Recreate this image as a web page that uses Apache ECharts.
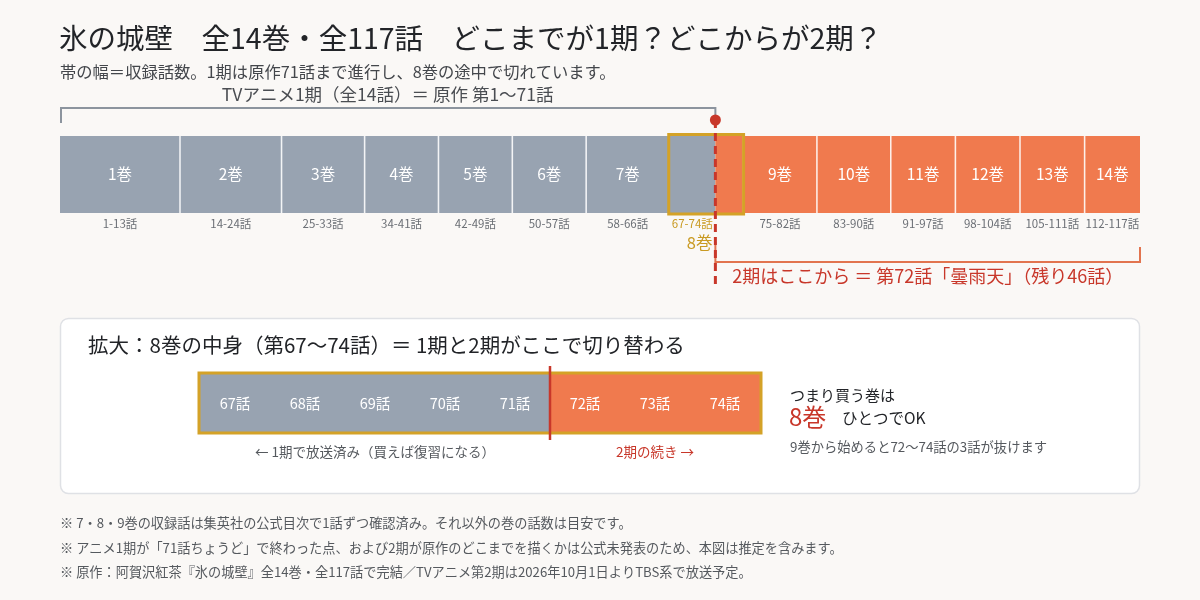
<!DOCTYPE html>
<html>
<head>
<meta charset="utf-8">
<script src="https://cdn.jsdelivr.net/npm/echarts@6/dist/echarts.min.js"></script>
<style>
html,body{margin:0;padding:0;background:#faf8f6;}
#main{width:1200px;height:600px;}
</style>
</head>
<body>
<div id="main"></div>
<script>
// ---- data ----
const volumes = ['1巻','2巻','3巻','4巻','5巻','6巻','7巻','8巻','9巻','10巻','11巻','12巻','13巻','14巻'];
const firstEp = [1, 14, 25, 34, 42, 50, 58, 67, 75, 83, 91, 98, 105, 112];
const lastEp  = [13, 24, 33, 41, 49, 57, 66, 74, 82, 90, 97, 104, 111, 117];
const totalEpisodes = 117;
const season1LastEp = 71;
const splitVolume = '8巻';
const zoomEpisodes = [67, 68, 69, 70, 71, 72, 73, 74];

const titleText = '氷の城壁　全14巻・全117話　どこまでが1期？どこからが2期？';
const subtitleText = '帯の幅＝収録話数。1期は原作71話まで進行し、8巻の途中で切れています。';
const season1Text = 'TVアニメ1期（全14話）＝ 原作 第1〜71話';
const season2Text = '2期はここから ＝ 第72話「曇雨天」（残り46話）';
const zoomTitle = '拡大：8巻の中身（第67〜74話）＝ 1期と2期がここで切り替わる';
const zoomLeftNote = '← 1期で放送済み（買えば復習になる）';
const zoomRightNote = '2期の続き →';
const buyLine1 = 'つまり買う巻は';
const buyVol = '8巻';
const buyLine2 = 'ひとつでOK';
const buyNote = '9巻から始めると72〜74話の3話が抜けます';
const footnotes = [
  '※ 7・8・9巻の収録話は集英社の公式目次で1話ずつ確認済み。それ以外の巻の話数は目安です。',
  '※ アニメ1期が「71話ちょうど」で終わった点、および2期が原作のどこまでを描くかは公式未発表のため、本図は推定を含みます。',
  '※ 原作：阿賀沢紅茶『氷の城壁』全14巻・全117話で完結／TVアニメ第2期は2026年10月1日よりTBS系で放送予定。'
];

// ---- styles ----
const FONT = "'Noto Sans CJK JP','Noto Sans',sans-serif";
const GREY = '#98a3b1';
const ORANGE = '#f07a4e';
const GOLD = '#d4a227';
const RED = '#c8372a';
const BRACKET_GREY = '#8c949e';
const BRACKET_ORANGE = '#e2744f';

function txt(x, y, text, size, fill, align) {
  return {
    type: 'text', x: x, y: y,
    style: {
      text: text, font: size + 'px ' + FONT,
      fill: fill, textAlign: align || 'left', align: align || 'left',
      textVerticalAlign: 'middle', verticalAlign: 'middle'
    }
  };
}
function ctext(x, y, text, size, fill, align) {
  return {
    type: 'text',
    style: {
      x: x, y: y, text: text, font: size + 'px ' + FONT, fill: fill,
      textAlign: align || 'center', align: align || 'center',
      textVerticalAlign: 'middle', verticalAlign: 'middle'
    }
  };
}

const chart = echarts.init(document.getElementById('main'), null, {renderer: 'canvas'});

const volData = volumes.map((v, i) => [firstEp[i] - 1, lastEp[i], i]);

function renderVolume(params, api) {
  const s = api.value(0), e = api.value(1), i = api.value(2);
  const p0 = api.coord([s, 1]);
  const p1 = api.coord([e, 0]);
  const x0 = p0[0], y0 = p0[1], x1 = p1[0], y1 = p1[1];
  const children = [];
  const isSplit = s < season1LastEp && e > season1LastEp;
  let xm = x1;
  if (isSplit) {
    xm = api.coord([season1LastEp, 0])[0];
    children.push({type: 'rect', shape: {x: x0, y: y0, width: xm - x0, height: y1 - y0}, style: {fill: GREY}});
    children.push({type: 'rect', shape: {x: xm, y: y0, width: x1 - xm, height: y1 - y0}, style: {fill: ORANGE}});
  } else {
    children.push({type: 'rect', shape: {x: x0, y: y0, width: x1 - x0, height: y1 - y0},
      style: {fill: e <= season1LastEp ? GREY : ORANGE}});
  }
  if (s > 0) {
    children.push({type: 'line', shape: {x1: x0, y1: y0, x2: x0, y2: y1}, style: {stroke: 'rgba(255,255,255,0.85)', lineWidth: 1.6}});
  }
  if (!isSplit) {
    children.push(ctext((x0 + x1) / 2, (y0 + y1) / 2, volumes[i], 15.5, '#ffffff'));
    children.push(ctext((x0 + x1) / 2, y1 + 11, firstEp[i] + '-' + lastEp[i] + '話', 11.5, '#6b6f75'));
  } else {
    children.push(ctext((x0 + xm) / 2, y1 + 11, firstEp[i] + '-' + lastEp[i] + '話', 11.5, '#c99a22'));
    children.push({type: 'rect', shape: {x: x0 - 0.5, y: y0 - 1.5, width: x1 - x0 + 1, height: y1 - y0 + 2.5},
      style: {fill: 'none', stroke: GOLD, lineWidth: 3}, z2: 10});
    children.push(ctext(xm - 3, y1 + 30, volumes[i], 16.5, '#c99a22', 'right'));
  }
  return {type: 'group', children: children};
}

function renderMarkers(params, api) {
  const pStart = api.coord([0, 1]);
  const pSplitTop = api.coord([season1LastEp, 1]);
  const pSplitBot = api.coord([season1LastEp, 0]);
  const pEnd = api.coord([totalEpisodes, 0]);
  const xs = pSplitTop[0];
  const top = pStart[1], bot = pSplitBot[1];
  const children = [];
  // season 1 bracket
  children.push({type: 'polyline', shape: {points: [[pStart[0] + 1, top - 13], [pStart[0] + 1, top - 28], [xs, top - 28], [xs, top - 16]]},
    style: {stroke: BRACKET_GREY, lineWidth: 2, fill: 'none'}});
  children.push(ctext((pStart[0] + xs) / 2, top - 42, season1Text, 17.5, '#4a4d52'));
  // season 2 bracket
  children.push({type: 'polyline', shape: {points: [[xs, bot + 29], [xs, bot + 49], [pEnd[0], bot + 49], [pEnd[0], bot + 34]]},
    style: {stroke: BRACKET_ORANGE, lineWidth: 2, fill: 'none'}});
  children.push(ctext((xs + pEnd[0]) / 2, bot + 63, season2Text, 18, RED));
  // dashed split line + dot
  children.push({type: 'line', shape: {x1: xs, y1: top - 16, x2: xs, y2: bot + 72},
    style: {stroke: RED, lineWidth: 3, lineDash: [8, 5]}, z2: 20});
  children.push({type: 'circle', shape: {cx: xs, cy: top - 16, r: 5.5}, style: {fill: RED}, z2: 21});
  return {type: 'group', children: children};
}

function renderEpisode(params, api) {
  const ep = api.value(0);
  const p0 = api.coord([ep - 1, 1]);
  const p1 = api.coord([ep, 0]);
  const children = [
    {type: 'rect', shape: {x: p0[0], y: p0[1], width: p1[0] - p0[0], height: p1[1] - p0[1]},
      style: {fill: ep <= season1LastEp ? GREY : ORANGE}},
    ctext((p0[0] + p1[0]) / 2, (p0[1] + p1[1]) / 2, ep + '話', 14.5, '#ffffff')
  ];
  return {type: 'group', children: children};
}

function renderZoomFrame(params, api) {
  const first = zoomEpisodes[0] - 1, last = zoomEpisodes[zoomEpisodes.length - 1];
  const p0 = api.coord([first, 1]);
  const p1 = api.coord([last, 0]);
  const ps = api.coord([season1LastEp, 0]);
  return {type: 'group', children: [
    {type: 'rect', shape: {x: p0[0] - 1, y: p0[1] - 1, width: p1[0] - p0[0] + 2, height: p1[1] - p0[1] + 2},
      style: {fill: 'none', stroke: GOLD, lineWidth: 3}},
    {type: 'line', shape: {x1: ps[0], y1: p0[1] - 8, x2: ps[0], y2: p1[1] + 8}, style: {stroke: RED, lineWidth: 2.5}},
    ctext((p0[0] + ps[0]) / 2, p1[1] + 20, zoomLeftNote, 13.5, '#55595e'),
    ctext((ps[0] + p1[0]) / 2, p1[1] + 20, zoomRightNote, 13.5, RED)
  ]};
}

const option = {
  backgroundColor: '#faf8f6',
  animation: false,
  grid: [
    {left: 60, top: 136, width: 1080, height: 77},
    {left: 200, top: 374, width: 560, height: 58}
  ],
  xAxis: [
    {gridIndex: 0, type: 'value', min: 0, max: totalEpisodes, show: false},
    {gridIndex: 1, type: 'value', min: zoomEpisodes[0] - 1, max: zoomEpisodes[zoomEpisodes.length - 1], show: false}
  ],
  yAxis: [
    {gridIndex: 0, type: 'value', min: 0, max: 1, show: false},
    {gridIndex: 1, type: 'value', min: 0, max: 1, show: false}
  ],
  graphic: [
    {type: 'rect', z: -10, shape: {x: 60.5, y: 318.5, width: 1079, height: 175, r: 8},
      style: {fill: '#ffffff', stroke: '#dfe1e5', lineWidth: 1.5}},
    txt(59, 38, titleText, 28.5, '#222428', 'left'),
    txt(60, 72, subtitleText, 16.3, '#43464b', 'left'),
    txt(88, 345, zoomTitle, 20.5, '#222428', 'left'),
    txt(790, 395, buyLine1, 15, '#222428', 'left'),
    txt(789, 417, buyVol, 24, RED, 'left'),
    txt(842, 418, buyLine2, 15.5, '#222428', 'left'),
    txt(790, 447, buyNote, 13.3, '#55595e', 'left'),
    txt(60, 523, footnotes[0], 13.2, '#55595e', 'left'),
    txt(60, 548, footnotes[1], 13.2, '#55595e', 'left'),
    txt(60, 572, footnotes[2], 13.2, '#55595e', 'left')
  ],
  series: [
    {type: 'custom', xAxisIndex: 0, yAxisIndex: 0, data: volData, renderItem: renderVolume, clip: false, silent: true},
    {type: 'custom', xAxisIndex: 0, yAxisIndex: 0, data: [[season1LastEp]], renderItem: renderMarkers, clip: false, silent: true, z: 5},
    {type: 'custom', xAxisIndex: 1, yAxisIndex: 1, data: zoomEpisodes.map(e => [e]), renderItem: renderEpisode, clip: false, silent: true},
    {type: 'custom', xAxisIndex: 1, yAxisIndex: 1, data: [[season1LastEp]], renderItem: renderZoomFrame, clip: false, silent: true, z: 5}
  ]
};
chart.setOption(option);
</script>
</body>
</html>
